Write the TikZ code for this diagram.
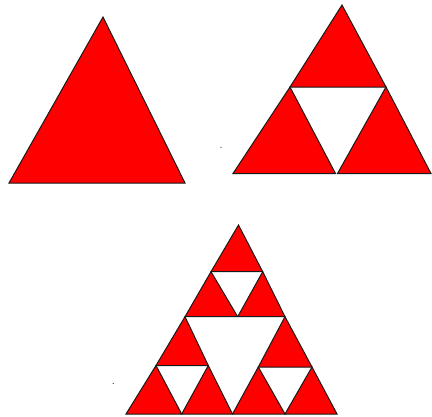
\documentclass[tikz,border=0pt]{standalone}
\begin{document}
\begin{tikzpicture}[x=1pt,y=-1pt,
  tri/.style={fill=red, draw=black!90, line width=1pt, line join=miter},
  speck/.style={fill=black!80}]
\useasboundingbox (0,0) rectangle (432,416);
% first figure: solid triangle
\draw[tri] (103,17) -- (9,183) -- (185,183) -- cycle;
% second figure: level 1
\draw[tri] (342,5) -- (290,87) -- (386,87) -- cycle;
\draw[tri] (290,87) -- (233,173.5) -- (335.5,173.5) -- cycle;
\draw[tri] (386,87) -- (337.5,173.5) -- (431,173.5) -- cycle;
% third figure: level 2
\draw[tri] (238.5,225) -- (211,271.7) -- (262.7,271.7) -- cycle;
\draw[tri] (211,271.7) -- (185,316.7) -- (237.7,316.7) -- cycle;
\draw[tri] (262.7,271.7) -- (237.7,316.7) -- (285,316.7) -- cycle;
\draw[tri] (185,316.7) -- (156,365.5) -- (208.3,365.5) -- cycle;
\draw[tri] (156,365.5) -- (126,414) -- (181.7,414) -- cycle;
\draw[tri] (208.3,365.5) -- (181.7,414) -- (232.5,414) -- cycle;
\draw[tri] (285,316.7) -- (258.3,367) -- (312,367) -- cycle;
\draw[tri] (258.3,367) -- (232.5,414) -- (285,414) -- cycle;
\draw[tri] (312,367) -- (285,414) -- (337,414) -- cycle;
% stray specks
\fill[speck] (221,147.3) circle (0.6);
\fill[speck] (113.3,383.5) circle (0.6);
\end{tikzpicture}
\end{document}
